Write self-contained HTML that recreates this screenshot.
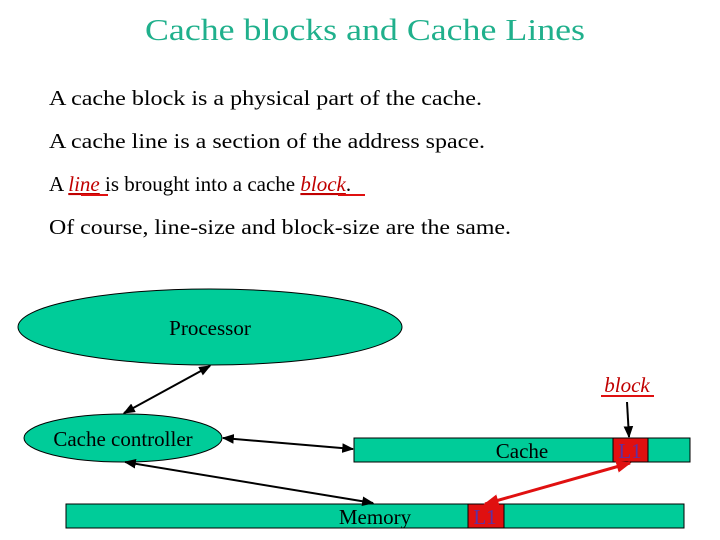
<!DOCTYPE html>
<html><head><meta charset="utf-8"><style>html,body{margin:0;padding:0;background:#fff}svg{display:block}</style></head>
<body>
<svg width="720" height="540" viewBox="0 0 720 540" xmlns="http://www.w3.org/2000/svg" font-family="Liberation Serif, serif">
<defs>
<marker id="a" viewBox="0 0 10 10" refX="9" refY="5" markerWidth="6" markerHeight="6" orient="auto-start-reverse"><path d="M0,1 L10,5 L0,9 z" fill="#000"/></marker>
<marker id="r" viewBox="0 0 10 10" refX="9" refY="5" markerWidth="5" markerHeight="5" orient="auto-start-reverse"><path d="M0,1 L10,5 L0,9 z" fill="#e01010"/></marker>
</defs>
<text x="145" y="40" font-size="31" fill="#20b08c" textLength="440" lengthAdjust="spacingAndGlyphs">Cache blocks and Cache Lines</text>
<g font-size="21" fill="#000">
<text x="49" y="105" textLength="433" lengthAdjust="spacingAndGlyphs">A cache block is a physical part of the cache.</text>
<text x="49" y="148" textLength="436" lengthAdjust="spacingAndGlyphs">A cache line is a section of the address space.</text>
<text x="49" y="191">A <tspan fill="#c00000" font-style="italic" text-decoration="underline">line</tspan> is brought into a cache <tspan fill="#c00000" font-style="italic" text-decoration="underline">block</tspan>.</text>
<text x="49" y="234" textLength="462" lengthAdjust="spacingAndGlyphs">Of course, line-size and block-size are the same.</text>
</g>
<line x1="81" y1="195" x2="108" y2="195" stroke="#e01010" stroke-width="2"/>
<line x1="338" y1="195" x2="365" y2="195" stroke="#e01010" stroke-width="2"/>
<ellipse cx="210" cy="327" rx="192" ry="38" fill="#00cc99" stroke="#000" stroke-width="1"/>
<text x="210" y="335" font-size="21" text-anchor="middle">Processor</text>
<ellipse cx="123" cy="438" rx="99" ry="24" fill="#00cc99" stroke="#000" stroke-width="1"/>
<text x="123" y="446" font-size="21" text-anchor="middle">Cache controller</text>
<rect x="354" y="438" width="336" height="24" fill="#00cc99" stroke="#000"/>
<rect x="613" y="438" width="35" height="24" fill="#e01010" stroke="#000"/>
<text x="522" y="458" font-size="21" text-anchor="middle">Cache</text>
<text x="630" y="458" font-size="21" text-anchor="middle" fill="#6030a0">L1</text>
<rect x="66" y="504" width="618" height="24" fill="#00cc99" stroke="#000"/>
<rect x="468" y="504" width="36" height="24" fill="#e01010" stroke="#000"/>
<text x="375" y="524" font-size="21" text-anchor="middle">Memory</text>
<text x="485" y="524" font-size="21" text-anchor="middle" fill="#6030a0">L1</text>
<text x="627" y="392" font-size="21" text-anchor="middle" fill="#c00000" font-style="italic">block</text>
<line x1="601" y1="396" x2="654" y2="396" stroke="#e01010" stroke-width="2"/>
<g stroke="#000" stroke-width="2" fill="none">
<line x1="124" y1="413" x2="210" y2="366" marker-start="url(#a)" marker-end="url(#a)"/>
<line x1="223" y1="438" x2="353" y2="449" marker-start="url(#a)" marker-end="url(#a)"/>
<line x1="125" y1="462" x2="373" y2="503" marker-start="url(#a)" marker-end="url(#a)"/>
<line x1="627" y1="402" x2="629" y2="437" marker-end="url(#a)"/>
</g>
<line x1="630" y1="463" x2="485" y2="504" stroke="#e01010" stroke-width="3" marker-start="url(#r)" marker-end="url(#r)"/>
</svg>
</body></html>
